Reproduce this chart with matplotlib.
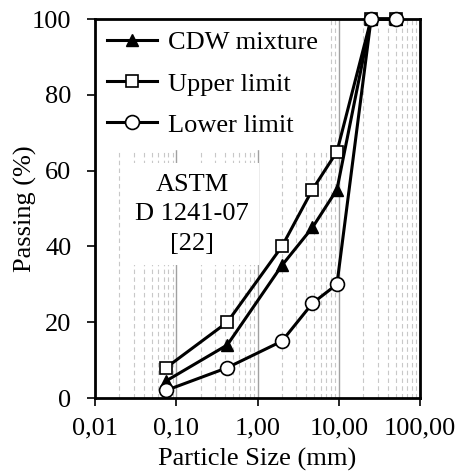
import matplotlib
matplotlib.use("Agg")
import matplotlib.pyplot as plt
from matplotlib.ticker import FixedLocator, FixedFormatter, NullFormatter

plt.rcParams['font.family'] = ['Liberation Serif', 'DejaVu Serif']

# sieve sizes (mm) and passing (%)
sizes = [0.075, 0.425, 2.0, 4.75, 9.5, 25.0, 50.0]
cdw = [4.5, 14, 35, 45, 55, 100, 100]
upper = [8, 20, 40, 55, 65, 100, 100]
lower = [2, 8, 15, 25, 30, 100, 100]

xticks = [0.01, 0.1, 1, 10, 100]
xlabels = ['0,01', '0,10', '1,00', '10,00', '100,00']
yticks = [0, 20, 40, 60, 80, 100]

fig = plt.figure(figsize=(4.59, 4.73), dpi=100)
ax = fig.add_axes([95/459, 1 - 398/473, 325/459, 379/473])

ax.set_xscale('log')
ax.set_xlim(0.01, 100)
ax.set_ylim(0, 100)

# grid
minors = [m * d for d in [0.01, 0.1, 1, 10] for m in range(2, 10)]
ax.xaxis.set_minor_locator(FixedLocator(minors))
ax.xaxis.set_minor_formatter(NullFormatter())
ax.grid(True, which='major', axis='x', color='#a0a0a0', lw=1)
ax.grid(True, which='minor', axis='x', color='#c8c8c8', lw=0.8, ls=(0, (4, 3)))
ax.tick_params(which='minor', length=0)
ax.set_axisbelow(True)

ax.plot(sizes, upper, color='black', lw=2.2, marker='s', ms=8.5, mfc='white', mec='black', mew=1.2,
        label='Upper limit', zorder=3, clip_on=False)
ax.plot(sizes, cdw, color='black', lw=2.2, marker='^', ms=8.5, mfc='black', mec='black',
        label='CDW mixture', zorder=4, clip_on=False)
ax.plot(sizes, lower, color='black', lw=2.2, marker='o', ms=10, mfc='white', mec='black', mew=1.2,
        label='Lower limit', zorder=5, clip_on=False)

ax.xaxis.set_major_locator(FixedLocator(xticks))
ax.xaxis.set_major_formatter(FixedFormatter(xlabels))
ax.set_yticks(yticks)
ax.tick_params(which='major', direction='out', length=6, width=1.2, labelsize=19, colors='black')
ax.tick_params(axis='y', pad=11)
ax.tick_params(axis='x', pad=8)

for s in ax.spines.values():
    s.set_linewidth(2)
    s.set_zorder(4.5)

ax.set_xlabel('Particle Size (mm)', fontsize=19, labelpad=6)
ax.set_ylabel('Passing (%)', fontsize=19, labelpad=-4)

handles, labels = ax.get_legend_handles_labels()
order = [1, 0, 2]
leg = ax.legend([handles[i] for i in order], [labels[i] for i in order], loc='upper left',
                fontsize=19, frameon=True, framealpha=1, edgecolor='white', fancybox=False,
                handlelength=1.9, handletextpad=0.4, borderaxespad=0.0, labelspacing=0.67,
                borderpad=0.45)
leg.set_zorder(2.8)

ax.text(0.156, 48.5, 'ASTM\nD 1241-07\n[22]', fontsize=19, ha='center', va='center',
        linespacing=1.45, zorder=2.8,
        bbox=dict(facecolor='white', edgecolor='none', boxstyle='square,pad=0.4'))

fig.savefig('out.png', dpi=100)
